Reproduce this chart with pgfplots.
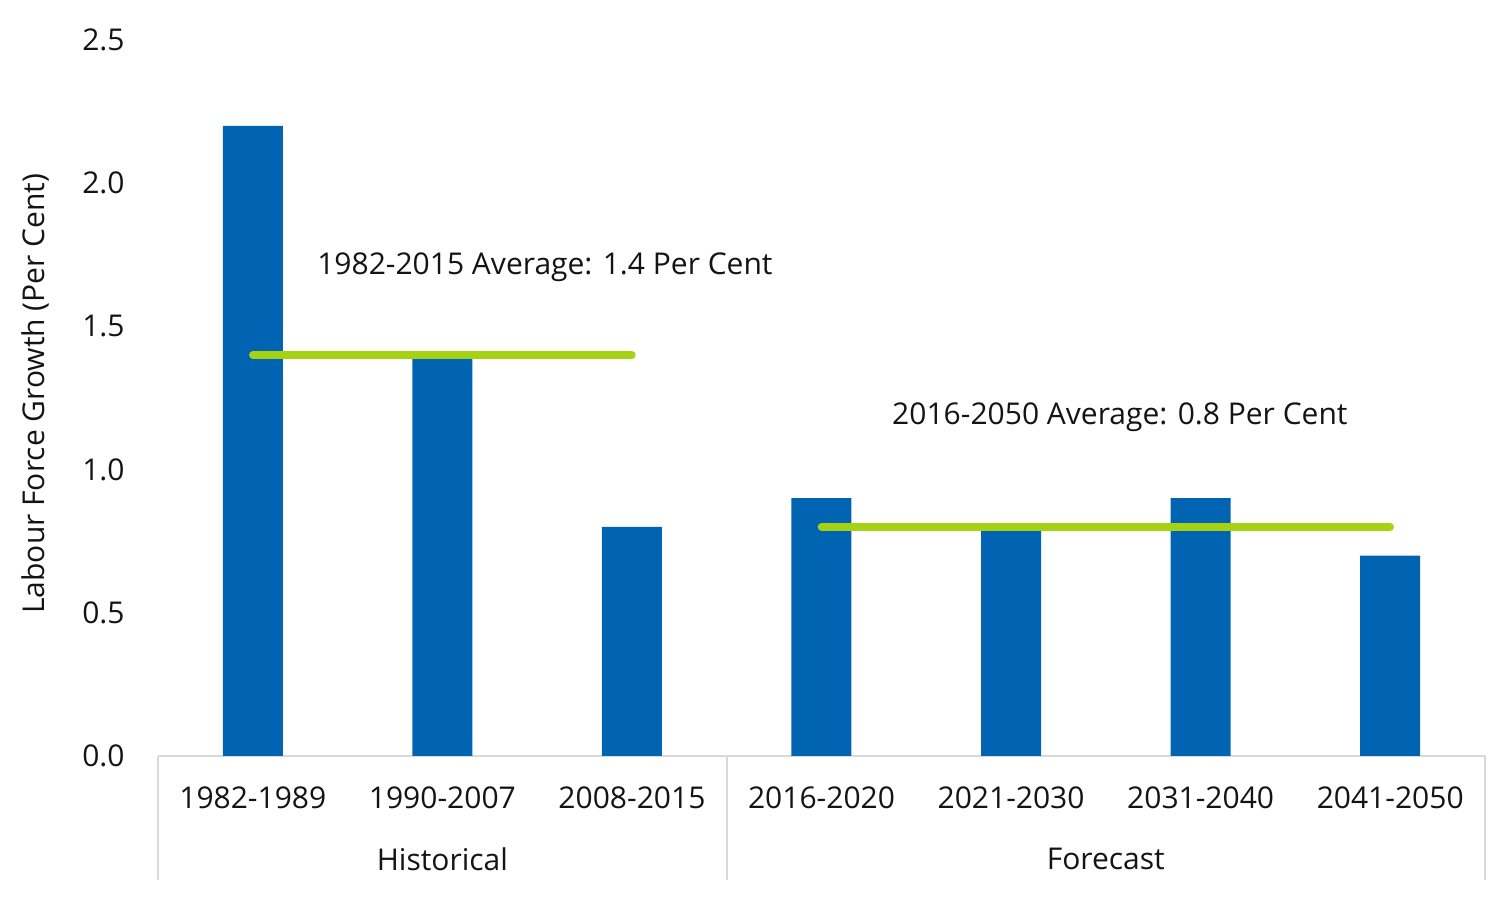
\documentclass[border=0pt]{standalone}
\usepackage{pgfplots}
\pgfplotsset{compat=1.18}
\usepackage{fontspec}
\setmainfont{Open Sans}
\definecolor{barblue}{RGB}{0,100,178}
\definecolor{lime}{RGB}{165,210,18}
\definecolor{axgray}{RGB}{217,217,217}
\definecolor{txt}{RGB}{20,20,20}
\begin{document}
\fontsize{15}{18}\selectfont
\begin{tikzpicture}
\begin{axis}[
  at={(0,0)}, anchor=south west,
  scale only axis, width=663.5pt, height=358pt,
  xmin=-0.5, xmax=6.5, ymin=0, ymax=2.5,
  clip=false,
  separate axis lines,
  axis x line*=bottom, axis y line*=left,
  x axis line style={draw=axgray, line width=1.2pt, -},
  y axis line style={draw=none},
  major tick length=0pt,
  tick style={draw=none},
  ytick={0,0.5,1,1.5,2,2.5},
  xtick={0,1,2,3,4,5,6},
  xticklabels={1982-1989,1990-2007,2008-2015,2016-2020,2021-2030,2031-2040,2041-2050},
  yticklabel style={/pgf/number format/fixed, /pgf/number format/fixed zerofill, /pgf/number format/precision=1, /pgf/number format/assume math mode=true},
  y tick label style={xshift=-11.5pt, font=\fontsize{15}{18}\selectfont, text=txt},
  x tick label style={yshift=-10pt, font=\fontsize{15}{18}\selectfont, text=txt},
  ylabel={Labour Force Growth (Per Cent)},
  ylabel style={at={(axis description cs:-0.0927,0.506)}, anchor=center, font=\fontsize{15}{18}\selectfont, text=txt},
]
\addplot[ybar, bar width=30pt, fill=barblue, draw=none] coordinates {
  (0,2.2) (1,1.4) (2,0.8) (3,0.9) (4,0.8) (5,0.9) (6,0.7)
};
\addplot[lime, line width=3.75pt, line cap=round] coordinates {(0,1.4) (2,1.4)};
\addplot[lime, line width=3.75pt, line cap=round] coordinates {(3,0.8) (6,0.8)};
\node[text=txt] at (axis cs:1.541,1.707) {1982-2015 Average: 1.4 Per Cent};
\node[text=txt] at (axis cs:4.574,1.184) {2016-2050 Average: 0.8 Per Cent};
\draw[axgray, line width=1.2pt] (axis cs:-0.5,0) -- ([yshift=-62pt]axis cs:-0.5,0);
\draw[axgray, line width=1.2pt] (axis cs:2.5,0) -- ([yshift=-62pt]axis cs:2.5,0);
\draw[axgray, line width=1.2pt] (axis cs:6.5,0) -- ([yshift=-62pt]axis cs:6.5,0);
\node[text=txt] at (axis cs:1,0) [yshift=-51.5pt] {Historical};
\node[text=txt] at (axis cs:4.5,0) [yshift=-51.5pt] {Forecast};
\end{axis}
\pgfresetboundingbox
\path (-79pt,-70.5pt) rectangle (671pt,378pt);
\end{tikzpicture}
\end{document}
